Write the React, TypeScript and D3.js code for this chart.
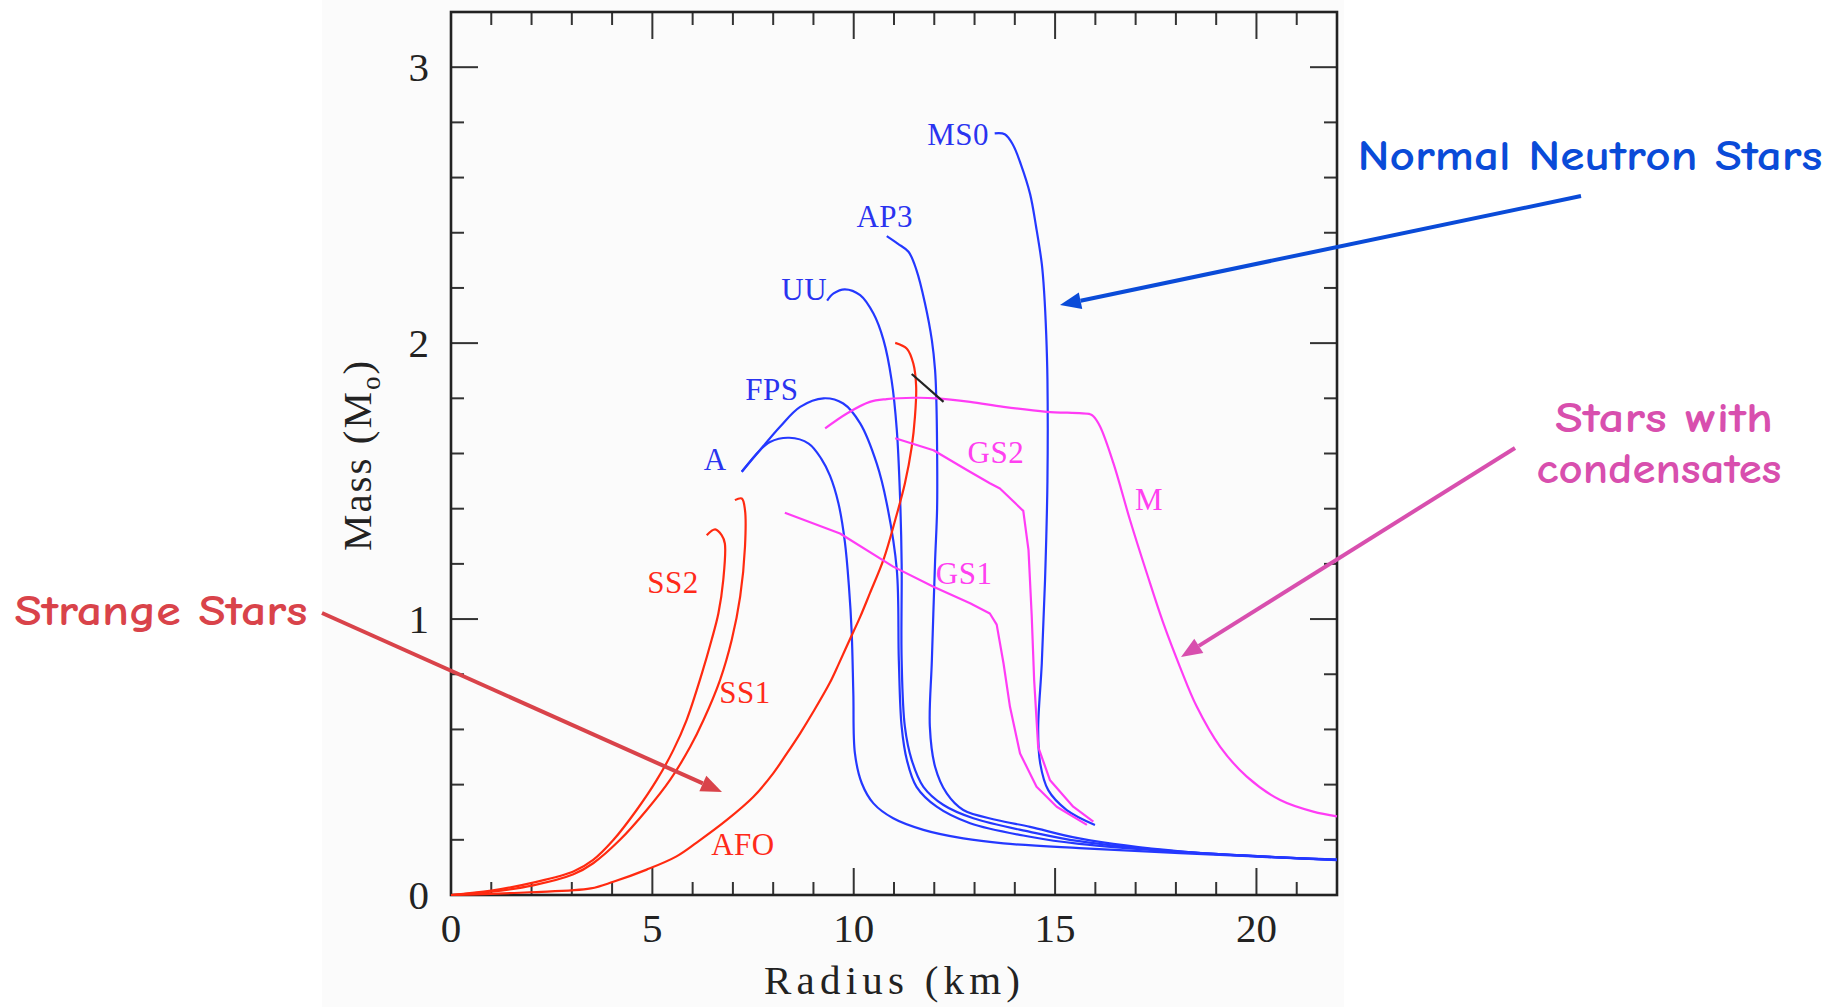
import React, { useEffect, useRef } from 'react';
import * as d3 from 'd3';

// ---- data (radius km, mass Msun) ----
const radiusTicks = [0, 5, 10, 15, 20];
const massTicks = [0, 1, 2, 3];

// normal neutron stars (blue)
const ms0 = [[13.50, 2.760], [13.75, 2.757], [13.95, 2.72], [14.15, 2.648], [14.38, 2.54], [14.53, 2.42], [14.67, 2.287], [14.73, 2.18], [14.78, 2.03], [14.81, 1.87], [14.81, 1.50], [14.75, 1.14], [14.67, 0.84], [14.58, 0.60], [14.63, 0.477], [14.83, 0.38], [15.29, 0.308], [15.99, 0.254]];
const ap3 = [[10.82, 2.388], [11.10, 2.36], [11.36, 2.331], [11.56, 2.264], [11.77, 2.144], [11.94, 2.011], [12.02, 1.902], [12.05, 1.80], [12.07, 1.62], [12.07, 1.40], [12.02, 1.21], [11.94, 0.85], [11.89, 0.61], [12.02, 0.465], [12.31, 0.368], [12.72, 0.308], [13.55, 0.272], [14.38, 0.247], [15.6, 0.205], [18.1, 0.158], [22.0, 0.128]];
const uu = [[9.34, 2.154], [9.50, 2.18], [9.78, 2.195], [10.16, 2.174], [10.49, 2.107], [10.74, 2.011], [10.94, 1.866], [11.07, 1.685], [11.15, 1.443], [11.19, 1.20], [11.19, 0.851], [11.27, 0.61], [11.44, 0.489], [11.73, 0.392], [12.23, 0.326], [12.97, 0.278], [14.38, 0.229], [15.6, 0.195], [18.1, 0.157], [22.0, 0.128]];
const fps = [[7.22, 1.534], [7.67, 1.612], [8.17, 1.697], [8.67, 1.769], [9.25, 1.80], [9.74, 1.781], [10.16, 1.709], [10.57, 1.564], [10.82, 1.419], [11.07, 1.178], [11.12, 0.851], [11.19, 0.61], [11.32, 0.489], [11.56, 0.392], [12.06, 0.32], [12.89, 0.26], [14.38, 0.211], [15.6, 0.185], [18.1, 0.156], [22.0, 0.127]];
const eosA = [[7.22, 1.534], [7.67, 1.612], [7.92, 1.642], [8.40, 1.657], [8.88, 1.636], [9.20, 1.58], [9.41, 1.52], [9.62, 1.42], [9.78, 1.28], [9.88, 1.12], [9.95, 0.95], [9.99, 0.731], [10.03, 0.513], [10.20, 0.405], [10.49, 0.332], [10.98, 0.278], [11.73, 0.236], [12.72, 0.205], [13.72, 0.187], [15.6, 0.17], [18.1, 0.152], [22.0, 0.126]];

// strange stars (red)
const afo = [[11.03, 2.001], [11.32, 1.98], [11.48, 1.926], [11.55, 1.842], [11.52, 1.733], [11.44, 1.624], [11.27, 1.491], [11.03, 1.359], [10.75, 1.22], [10.40, 1.093], [10.16, 1.008], [9.90, 0.925], [9.62, 0.835], [9.41, 0.77], [9.00, 0.665], [8.67, 0.586], [8.34, 0.513], [8.00, 0.441], [7.51, 0.356], [6.85, 0.272], [6.10, 0.19], [5.60, 0.14], [4.86, 0.092], [4.03, 0.048], [3.47, 0.024], [1.95, 0.01], [0, 0]];
const ss1 = [[7.05, 1.431], [7.22, 1.437], [7.30, 1.395], [7.30, 1.262], [7.18, 1.081], [6.97, 0.924], [6.68, 0.779], [6.27, 0.634], [5.94, 0.537], [5.44, 0.417], [4.86, 0.308], [4.19, 0.199], [3.53, 0.115], [3.04, 0.075], [2.04, 0.035], [1.0, 0.012], [0, 0]];
const ss2 = [[6.35, 1.304], [6.56, 1.325], [6.72, 1.304], [6.80, 1.274], [6.76, 1.141], [6.64, 1.021], [6.47, 0.924], [6.23, 0.803], [5.85, 0.634], [5.52, 0.525], [5.11, 0.417], [4.61, 0.308], [4.03, 0.199], [3.53, 0.127], [3.04, 0.085], [2.04, 0.045], [1.0, 0.016], [0, 0]];

// stars with condensates (magenta)
const gs1 = [[8.29, 1.385], [9.66, 1.31], [10.98, 1.19], [11.98, 1.117], [12.89, 1.057], [13.38, 1.02], [13.55, 0.98], [13.72, 0.839], [13.88, 0.682], [14.13, 0.513], [14.54, 0.392], [15.04, 0.32], [15.79, 0.254]];
const gs2 = [[11.03, 1.655], [11.98, 1.612], [12.81, 1.54], [13.38, 1.492], [13.63, 1.473], [14.21, 1.392], [14.34, 1.25], [14.42, 1.01], [14.48, 0.779], [14.58, 0.537], [14.87, 0.417], [15.45, 0.32], [15.95, 0.266]];
const eosM = [[9.29, 1.691], [9.83, 1.745], [10.40, 1.787], [10.82, 1.797], [11.5, 1.802], [12.06, 1.80], [12.89, 1.787], [13.72, 1.769], [14.79, 1.751], [15.87, 1.742], [15.95, 1.735], [16.12, 1.697], [16.45, 1.564], [16.86, 1.359], [17.28, 1.165], [17.69, 0.984], [18.10, 0.827], [18.52, 0.682], [19.10, 0.537], [19.76, 0.429], [20.59, 0.344], [21.41, 0.302], [22.0, 0.285]];

// stray black stroke in the scanned figure
const strayMark = [[11.44, 1.888], [12.23, 1.787]];

// curve name, points, family, label anchor (radius, mass)
const curves = [
  { name: 'MS0', pts: ms0, kind: 'normal', at: [12.59, 2.717] },
  { name: 'AP3', pts: ap3, kind: 'normal', at: [10.77, 2.42] },
  { name: 'UU', pts: uu, kind: 'normal', at: [8.77, 2.156] },
  { name: 'FPS', pts: fps, kind: 'normal', at: [7.97, 1.793] },
  { name: 'A', pts: eosA, kind: 'normal', at: [6.56, 1.54] },
  { name: 'AFO', pts: afo, kind: 'strange', at: [7.25, 0.145] },
  { name: 'SS1', pts: ss1, kind: 'strange', at: [7.30, 0.696] },
  { name: 'SS2', pts: ss2, kind: 'strange', at: [5.51, 1.094] },
  { name: 'GS1', pts: gs1, kind: 'condensate', at: [12.74, 1.127] },
  { name: 'GS2', pts: gs2, kind: 'condensate', at: [13.53, 1.565] },
  { name: 'M', pts: eosM, kind: 'condensate', at: [17.33, 1.395] },
];

const W = 1847;
const H = 1007;

export default function App() {
  const ref = useRef<SVGSVGElement>(null);

  useEffect(() => {
    const svg = d3.select(ref.current);
    svg.selectAll('*').remove();

    const left = 451, right = 1337, top = 12, bottom = 895;
    const x = d3.scaleLinear().domain([0, 22]).range([left, right]);
    const y = d3.scaleLinear().domain([0, 3.2]).range([bottom, top]);

    const lineColor: any = { normal: '#2438ff', strange: '#ff2a10', condensate: '#ff3cf5' };
    const labelColor: any = { normal: '#2a33f0', strange: '#ff2a1a', condensate: '#ff40f0' };

    // faint backdrop of the pasted figure
    svg.append('rect').attr('x', 322).attr('y', 0).attr('width', 1022).attr('height', H).attr('fill', '#fbfbfb');

    // ticks on all four sides, pointing inwards
    const tickG = svg.append('g').attr('stroke', '#333').attr('stroke-width', 2);
    const xMinor = d3.range(0, 23, 1);
    const yMinor = d3.range(0, 3.21, 0.2);
    xMinor.forEach(v => {
      const len = v % 5 === 0 ? 27 : 13;
      tickG.append('line').attr('x1', x(v)).attr('x2', x(v)).attr('y1', bottom).attr('y2', bottom - len);
      tickG.append('line').attr('x1', x(v)).attr('x2', x(v)).attr('y1', top).attr('y2', top + len);
    });
    yMinor.forEach(v => {
      const len = Math.abs(v - Math.round(v)) < 1e-6 ? 27 : 13;
      tickG.append('line').attr('y1', y(v)).attr('y2', y(v)).attr('x1', left).attr('x2', left + len);
      tickG.append('line').attr('y1', y(v)).attr('y2', y(v)).attr('x1', right).attr('x2', right - len);
    });

    // frame
    svg.append('rect')
      .attr('x', left).attr('y', top)
      .attr('width', right - left).attr('height', bottom - top)
      .attr('fill', 'none').attr('stroke', '#222').attr('stroke-width', 2.6);

    // tick labels
    const serif = "'Liberation Serif', 'Times New Roman', serif";
    svg.append('g').selectAll('text').data(radiusTicks).enter().append('text')
      .attr('x', d => x(d)).attr('y', 942)
      .attr('text-anchor', 'middle')
      .style('font-family', serif).style('font-size', '41px').style('fill', '#222')
      .text(d => d);
    svg.append('g').selectAll('text').data(massTicks).enter().append('text')
      .attr('x', 429).attr('y', d => y(d) + 14)
      .attr('text-anchor', 'end')
      .style('font-family', serif).style('font-size', '41px').style('fill', '#222')
      .text(d => d);

    // axis titles
    svg.append('text')
      .attr('x', 892).attr('y', 994)
      .attr('text-anchor', 'middle')
      .attr('textLength', 256).attr('lengthAdjust', 'spacing')
      .style('font-family', serif).style('font-size', '41px').style('fill', '#222')
      .text('Radius (km)');
    const yTitle = svg.append('text')
      .attr('transform', 'translate(371,455) rotate(-90)')
      .attr('text-anchor', 'middle')
      .style('font-family', serif).style('font-size', '41px').style('fill', '#222')
      .style('letter-spacing', '2px');
    yTitle.append('tspan').text('Mass (M');
    yTitle.append('tspan').attr('dy', 9).style('font-size', '27px').text('o');
    yTitle.append('tspan').attr('dy', -9).text(')');

    // curves
    const smooth = d3.line<number[]>().x(d => x(d[0])).y(d => y(d[1])).curve(d3.curveCatmullRom.alpha(0.5));
    const straight = d3.line<number[]>().x(d => x(d[0])).y(d => y(d[1]));
    svg.append('g').selectAll('path').data(curves).enter().append('path')
      .attr('d', d => (d.name === 'GS1' || d.name === 'GS2') ? straight(d.pts) : smooth(d.pts))
      .attr('fill', 'none')
      .attr('stroke', d => lineColor[d.kind])
      .attr('stroke-width', 2.2)
      .attr('stroke-linejoin', 'round');
    svg.append('path').attr('d', straight(strayMark)).attr('stroke', '#222').attr('stroke-width', 2.2).attr('fill', 'none');

    // curve labels
    svg.append('g').selectAll('text').data(curves).enter().append('text')
      .attr('x', d => x(d.at[0])).attr('y', d => y(d.at[1]))
      .attr('text-anchor', 'middle')
      .style('font-family', serif).style('font-size', '31px')
      .style('letter-spacing', '0.5px')
      .style('fill', d => labelColor[d.kind])
      .text(d => d.name);

    // annotations with arrows
    const hand = "'Comic Sans MS', 'Comic Neue', 'Noto Sans', sans-serif";
    const notes = [
      { lines: [['Normal Neutron Stars', 1590, 170, 465]], color: '#0a4bd8', from: [1581, 196], to: [1060, 305] },
      { lines: [['Stars with', 1664, 432, 218], ['condensates', 1659, 483, 245]], color: '#d84fae', from: [1515, 448], to: [1181, 657] },
      { lines: [['Strange Stars', 161, 625, 293]], color: '#d9434a', from: [322, 613], to: [722, 792] },
    ];
    notes.forEach(n => {
      n.lines.forEach((l: any) => {
        svg.append('text')
          .attr('x', l[1]).attr('y', l[2])
          .attr('text-anchor', 'middle')
          .attr('textLength', l[3]).attr('lengthAdjust', 'spacingAndGlyphs')
          .style('font-family', hand).style('font-weight', 'bold').style('font-size', '42px')
          .style('fill', n.color)
          .text(l[0]);
      });
      const [sx, sy] = n.from, [tx, ty] = n.to;
      const len = Math.hypot(tx - sx, ty - sy);
      const ux = (tx - sx) / len, uy = (ty - sy) / len;
      const headL = 21, headW = 17;
      const bx = tx - ux * headL, by = ty - uy * headL;
      svg.append('line').attr('x1', sx).attr('y1', sy).attr('x2', bx).attr('y2', by)
        .attr('stroke', n.color).attr('stroke-width', 4);
      svg.append('polygon')
        .attr('points', [[tx, ty], [bx - uy * headW / 2, by + ux * headW / 2], [bx + uy * headW / 2, by - ux * headW / 2]].map(p => p.join(',')).join(' '))
        .attr('fill', n.color);
    });
  }, []);

  return <svg ref={ref} width={W} height={H} style={{ position: 'absolute', left: 0, top: 0, background: '#fff' }} />;
}
